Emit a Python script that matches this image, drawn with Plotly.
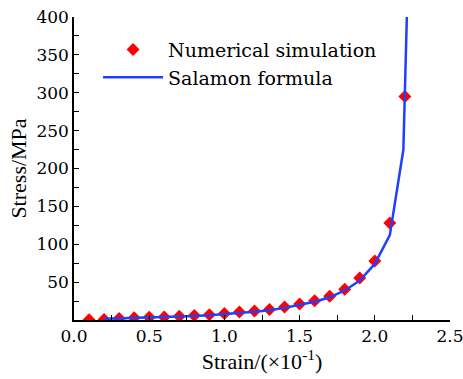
import plotly.graph_objects as go

sim_strain = [0.1, 0.2, 0.3, 0.4, 0.5, 0.6, 0.7, 0.8, 0.9, 1.0, 1.1,
              1.2, 1.3, 1.4, 1.5, 1.6, 1.7, 1.8, 1.9, 2.0, 2.1, 2.2]
sim_stress = [0.3, 0.8, 2, 3, 3.5, 4, 5, 6, 7, 8.5, 10.5,
              12, 14, 17, 21, 25.5, 31.5, 40.5, 55.5, 78, 128, 295]

sal_strain = [0.2, 0.3, 0.4, 0.5, 0.6, 0.7, 0.8, 0.9, 1.0, 1.1, 1.2, 1.3,
              1.4, 1.5, 1.6, 1.7, 1.8, 1.9, 2.0, 2.1, 2.19, 2.213]
sal_stress = [1.5, 2, 2.5, 3, 3.8, 4.5, 5.3, 6.3, 7.5, 9, 10.8, 13,
              16, 20, 24, 30, 39, 52, 74, 112, 225, 400]

y_ticks = [50, 100, 150, 200, 250, 300, 350, 400]
x_ticks = [0.0, 0.5, 1.0, 1.5, 2.0, 2.5]
x_labels = ["0.0", "0.5", "1.0", "1.5", "2.0", "2.5"]

font = "Liberation Serif"
tfont = dict(family="DejaVu Serif", size=17, color="black")
title_font = dict(family=font, size=22, color="black")

fig = go.Figure()
fig.add_trace(go.Scatter(
    x=sim_strain, y=sim_stress, mode="markers", name="Numerical simulation",
    marker=dict(symbol="diamond", size=10, color="#ff0000"),
))
fig.add_trace(go.Scatter(
    x=sal_strain, y=sal_stress, mode="lines", name="Salamon formula",
    line=dict(color="#2040ff", width=2.5),
))

fig.update_layout(
    width=463, height=379,
    margin=dict(l=74, r=13, t=17, b=59, autoexpand=False),
    paper_bgcolor="white", plot_bgcolor="white",
    font=dict(family=font, size=20, color="black"),
    showlegend=True,
    legend=dict(x=0.064, y=0.955, xanchor="left", yanchor="top",
                bgcolor="rgba(0,0,0,0)", font=dict(family="DejaVu Serif", size=19, color="black"),
                itemwidth=60, tracegroupgap=0),
    xaxis=dict(
        range=[0, 2.5], tickvals=x_ticks, ticktext=x_labels, tickfont=tfont,
        ticklabeloverflow="allow",
        ticks="inside", ticklen=5, tickwidth=1, tickcolor="black",
        showline=True, linecolor="black", linewidth=1.5,
        showgrid=False, zeroline=False, automargin=False,
        minor=dict(dtick=0.25, tick0=0, ticks="inside", ticklen=5, tickcolor="black"),
        title=dict(text="Strain/(×10<sup>-1</sup>)", standoff=8, font=title_font),
    ),
    yaxis=dict(
        range=[0, 400], tickvals=y_ticks, tickfont=tfont,
        ticklabeloverflow="allow",
        ticks="inside", ticklen=5, tickwidth=1, tickcolor="black",
        showline=True, linecolor="black", linewidth=1.5,
        showgrid=False, zeroline=False, automargin=False,
        minor=dict(dtick=25, tick0=0, ticks="inside", ticklen=5, tickcolor="black"),
        title=dict(text="Stress/MPa", standoff=4, font=title_font),
    ),
)

fig.write_html("out.html")
